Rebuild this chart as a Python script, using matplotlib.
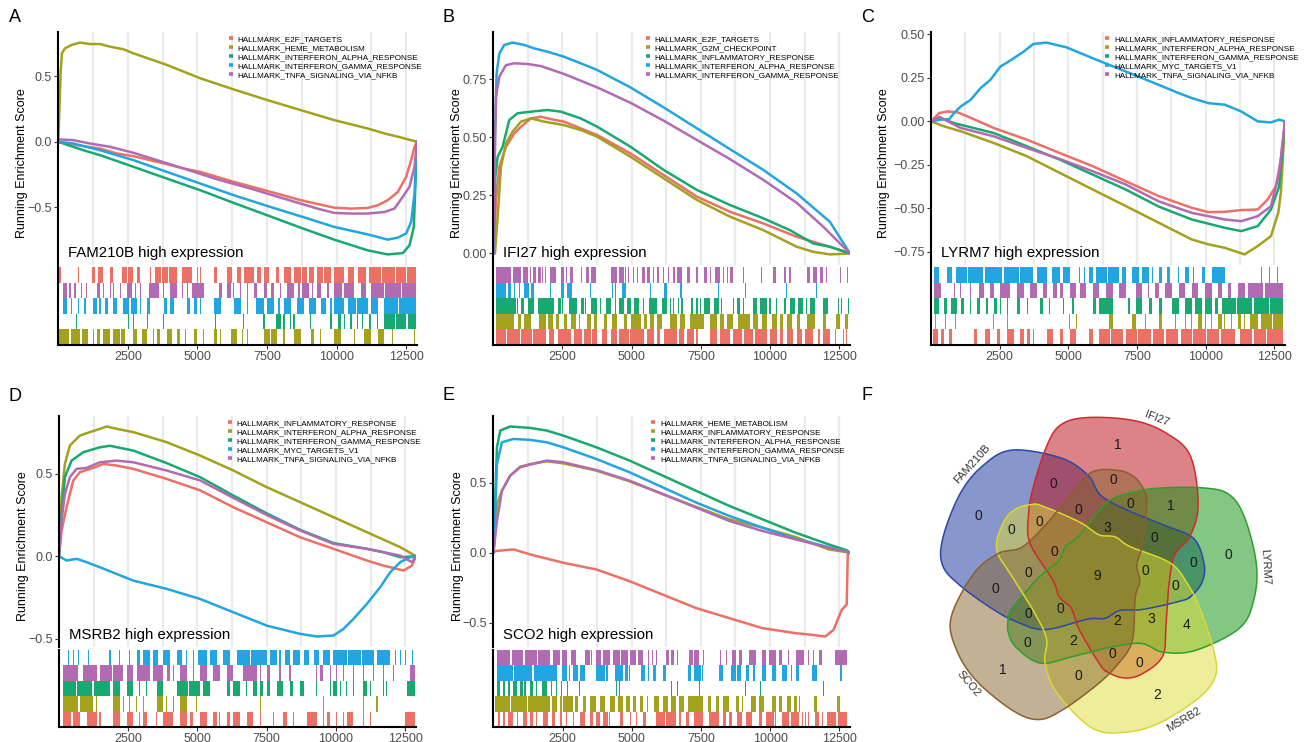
import numpy as np
import matplotlib
matplotlib.use("Agg")
import matplotlib.pyplot as plt
from matplotlib.lines import Line2D
from matplotlib.patches import Polygon

plt.rcParams["font.family"] = ["Liberation Sans", "DejaVu Sans"]

W, H = 1306, 742
N_GENES = 12890
PALETTE = ["#EC7064", "#A3A11E", "#17A970", "#22A5E0", "#B26BB3"]
TICK_GREY = "#4D4D4D"

# ---------------- A: FAM210B ----------------
fam_sets = ["HALLMARK_E2F_TARGETS", "HALLMARK_HEME_METABOLISM",
            "HALLMARK_INTERFERON_ALPHA_RESPONSE", "HALLMARK_INTERFERON_GAMMA_RESPONSE",
            "HALLMARK_TNFA_SIGNALING_VIA_NFKB"]
fam_x = [
    [0, 899, 1500, 2100, 2702, 3303, 3904, 4505, 5106, 5707, 6308, 7510, 8712, 9914, 10515, 11116, 11477, 11838, 12199, 12499, 12680, 12800, 12890],
    [0, 82, 130, 238, 478, 779, 1140, 1500, 1860, 2341, 2702, 3904, 5106, 6308, 7510, 8712, 9914, 11116, 11718, 12319, 12890],
    [0, 899, 1500, 2702, 3904, 5106, 6308, 7510, 8712, 9914, 11116, 11838, 12379, 12620, 12776, 12890],
    [0, 540, 1500, 2702, 3904, 5106, 6308, 7510, 8712, 9914, 11116, 11838, 12199, 12499, 12680, 12800, 12890],
    [0, 60, 540, 1140, 1860, 2702, 3544, 4505, 5707, 6909, 8111, 9313, 9914, 10515, 11116, 11718, 12079, 12379, 12620, 12800, 12890],
]
fam_y = [
    [0, -0.033, -0.051, -0.089, -0.11, -0.14, -0.171, -0.204, -0.23, -0.268, -0.306, -0.375, -0.446, -0.503, -0.51, -0.505, -0.485, -0.446, -0.383, -0.268, -0.14, -0.038, 0],
    [0, 0.52, 0.676, 0.714, 0.74, 0.758, 0.747, 0.747, 0.727, 0.707, 0.676, 0.587, 0.485, 0.40, 0.319, 0.242, 0.166, 0.102, 0.064, 0.033, 0],
    [0, -0.064, -0.102, -0.191, -0.281, -0.37, -0.467, -0.561, -0.656, -0.747, -0.829, -0.86, -0.85, -0.791, -0.65, 0],
    [0, -0.013, -0.064, -0.14, -0.23, -0.319, -0.408, -0.49, -0.569, -0.65, -0.707, -0.747, -0.732, -0.70, -0.612, -0.395, 0],
    [0, 0.018, 0.013, -0.013, -0.038, -0.084, -0.14, -0.204, -0.286, -0.357, -0.434, -0.51, -0.543, -0.548, -0.548, -0.536, -0.51, -0.42, -0.344, -0.191, 0],
]
# hit positions in thousands of ranked genes; tuples are dense runs
fam_hits = [
    [0.06, 0.72, (1.20, 1.32), (1.44, 1.62), (1.86, 1.98), (2.28, 2.48), (2.52, 2.70), (2.82, 2.94), 3.31,
     (3.49, 3.70), (3.74, 3.95), (3.99, 4.27), (4.45, 4.81), 4.99, 5.11, (5.59, 5.71), (6.07, 6.25),
     (6.43, 6.55), (6.67, 7.03), (7.15, 7.27), (7.39, 7.57), (7.81, 7.93), (8.11, 8.35), (8.47, 8.71),
     (8.77, 8.95), (9.00, 9.19), (9.31, 9.50), (9.55, 9.80), (9.92, 10.28), (10.40, 10.64), (10.76, 11.06),
     (11.18, 11.60), (11.64, 12.10), (12.14, 12.50), (12.54, 12.86)],
    [(0.04, 0.40), (0.44, 0.78), (0.84, 1.08), 1.26, (1.38, 1.50), (1.62, 1.86), (1.98, 2.20), (2.24, 2.40),
     (2.70, 2.82), (3.01, 3.19), 3.43, (3.55, 3.67), (3.91, 4.09), (4.27, 4.39), 4.57, (4.87, 4.99), 5.23,
     (5.59, 5.71), 5.83, (6.19, 6.43), 6.61, 6.79, (7.39, 7.60), (7.65, 7.87), 8.11, (8.47, 8.71),
     (9.07, 9.19), 9.43, (9.92, 10.16), 10.64, (11.00, 11.24), (11.48, 11.72), 12.02, 12.80],
    [0.66, 2.52, 2.70, 3.19, 3.79, 5.65, 6.67, 7.39, (7.81, 7.99), 8.11, 8.35, 8.47, 9.07, 9.80,
     (10.04, 10.16), 10.28, 10.52, 10.76, 10.94, (11.18, 11.24), 11.48, (11.72, 12.10), (12.15, 12.50),
     (12.55, 12.86)],
    [(0.18, 0.30), 0.48, 0.72, 0.96, (1.26, 1.38), 1.50, (1.68, 1.80), (1.98, 2.10), (2.34, 2.55),
     (2.60, 2.82), 2.94, (3.19, 3.31), (3.79, 3.91), (4.03, 4.15), (4.63, 4.75), (4.87, 4.99), 5.11,
     (5.59, 5.83), (6.31, 6.55), 6.79, (7.09, 7.39), (7.51, 7.75), 7.93, (8.11, 8.35), (8.59, 8.83),
     (9.01, 9.25), (9.43, 9.61), 9.80, (9.92, 10.28), (10.40, 10.70), (10.75, 11.12), (11.24, 11.48),
     (11.72, 12.20), (12.25, 12.86)],
    [(0.18, 0.30), 0.42, 0.60, 0.84, 1.02, (1.38, 1.50), 1.62, 1.86, 1.98, 2.22, (2.46, 2.64), 2.76, 2.94,
     (3.25, 3.61), 3.79, (4.03, 4.27), 4.45, 4.63, (4.81, 5.23), (5.77, 5.89), (6.07, 6.19), 6.31, 6.55,
     6.79, (7.03, 7.15), (7.39, 7.51), (7.63, 7.75), 7.99, (8.23, 8.47), 8.65, (8.77, 9.01), 9.13,
     (9.31, 9.43), (9.67, 9.73), (9.92, 10.20), (10.25, 10.64), (10.88, 11.06), (11.24, 11.70),
     (11.75, 12.30), (12.35, 12.86)],
]
fam_rug_order = [0, 4, 3, 2, 1]

# ---------------- B: IFI27 ----------------
ifi_sets = ["HALLMARK_E2F_TARGETS", "HALLMARK_G2M_CHECKPOINT", "HALLMARK_INFLAMMATORY_RESPONSE",
            "HALLMARK_INTERFERON_ALPHA_RESPONSE", "HALLMARK_INTERFERON_GAMMA_RESPONSE"]
ifi_x = [
    [0, 37, 97, 217, 457, 758, 998, 1358, 1718, 2078, 2558, 3159, 3759, 4960, 6160, 7361, 8562, 9763, 10964, 11565, 12165, 12890],
    [0, 61, 157, 277, 457, 697, 998, 1358, 1838, 2558, 3159, 3759, 4960, 6160, 7361, 8562, 9763, 10964, 11565, 12165, 12890],
    [0, 25, 73, 157, 337, 577, 877, 1358, 1958, 2438, 3159, 3759, 4960, 6160, 7361, 8562, 9763, 10724, 11565, 12165, 12890],
    [0, 61, 121, 217, 397, 697, 1117, 1477, 1958, 2558, 3159, 3759, 4960, 6160, 7361, 8562, 9763, 10964, 12165, 12890],
    [0, 37, 97, 217, 457, 758, 1238, 1718, 2558, 3759, 4960, 6160, 7361, 8562, 9763, 10964, 11925, 12890],
]
ifi_y = [
    [0, 0.057, 0.23, 0.373, 0.459, 0.516, 0.545, 0.581, 0.588, 0.578, 0.567, 0.538, 0.509, 0.43, 0.337, 0.244, 0.179, 0.129, 0.072, 0.05, 0.029, 0],
    [0, 0, 0.158, 0.373, 0.473, 0.524, 0.567, 0.581, 0.567, 0.552, 0.531, 0.502, 0.416, 0.323, 0.23, 0.158, 0.10, 0.029, 0.007, -0.004, 0],
    [0, 0.086, 0.33, 0.416, 0.459, 0.574, 0.603, 0.61, 0.617, 0.61, 0.581, 0.545, 0.459, 0.359, 0.273, 0.208, 0.151, 0.10, 0.043, 0.029, 0],
    [0, 0.516, 0.775, 0.86, 0.897, 0.907, 0.897, 0.882, 0.868, 0.846, 0.818, 0.789, 0.714, 0.628, 0.538, 0.448, 0.359, 0.258, 0.136, 0],
    [0, 0.30, 0.674, 0.76, 0.81, 0.818, 0.815, 0.806, 0.772, 0.714, 0.648, 0.571, 0.488, 0.405, 0.316, 0.218, 0.115, 0],
]
ifi_hits = [
    [(0.10, 0.45), (0.50, 0.95), (1.00, 1.40), (1.45, 1.90), (2.02, 2.20), (2.32, 2.80), (2.92, 3.22),
     (3.28, 3.52), (3.58, 3.76), (3.94, 4.12), (4.24, 4.48), (4.54, 4.90), (4.95, 5.44), (5.56, 5.80),
     (5.92, 6.04), (6.16, 6.64), (6.70, 6.88), (7.00, 7.24), 7.36, (7.84, 8.08), (8.20, 8.56), (8.68, 9.00),
     (9.06, 9.40), (9.46, 9.88), (10.00, 10.24), (10.36, 10.48), (10.60, 10.84), (10.96, 11.14),
     (11.26, 11.56), (11.74, 11.80), (11.92, 12.16), (12.34, 12.40), 12.65, 12.77],
    [(0.10, 0.76), (0.88, 1.00), (1.12, 1.36), (1.66, 1.90), (1.96, 2.14), (2.26, 2.38), (2.56, 2.68),
     (2.80, 2.98), 3.10, (3.40, 3.52), (3.64, 3.76), (4.00, 4.12), (4.30, 4.48), (4.72, 4.84), (4.96, 5.32),
     (5.44, 5.56), (5.68, 5.80), (5.92, 6.10), (6.40, 6.64), (6.76, 6.94), (7.12, 7.60), (7.84, 8.08),
     (8.20, 8.32), (8.44, 8.68), (8.86, 9.28), (9.40, 9.58), (9.70, 9.88), (10.06, 10.24), (10.36, 10.48),
     (10.60, 10.78), (10.96, 11.08), (11.32, 11.62), (11.92, 12.04), (12.40, 12.52), (12.70, 12.82)],
    [(0.10, 0.82), 0.88, (1.00, 1.12), (1.24, 1.48), (1.60, 2.20), (2.32, 2.44), 2.50, (2.74, 3.04),
     (3.16, 3.28), 3.34, (3.52, 3.76), 3.88, (4.06, 4.24), 4.42, (4.54, 4.72), (4.84, 4.96), (5.08, 5.26),
     5.44, (5.62, 5.92), (6.10, 6.28), 6.40, 6.50, 6.70, 6.82, 7.18, 7.36, 7.48, (7.60, 7.84), (7.96, 8.14),
     8.26, 8.68, (8.80, 8.92), 9.04, (9.40, 9.52), (9.64, 9.88), 10.00, 10.24, 10.54, (10.72, 10.90),
     (11.02, 11.20), 11.32, (11.44, 11.62), (11.92, 12.10), 12.46, 12.58, 12.82],
    [(0.10, 0.46), (0.52, 0.64), 0.76, 0.94, (1.12, 1.30), (1.36, 1.48), 2.08, (2.44, 2.56), (2.68, 2.86),
     3.52, 4.30, 4.42, (4.66, 4.78), 5.68, (6.16, 6.28), (6.76, 6.82), 8.14, 9.10, 10.60, 11.68],
    [(0.10, 0.64), (0.70, 1.00), (1.06, 1.24), 1.33, (1.42, 1.54), (1.60, 1.72), 1.78, 1.90, (2.05, 2.26),
     (2.44, 2.56), (2.62, 2.68), (2.76, 2.88), (3.16, 3.22), (3.34, 3.46), (3.52, 3.70), (4.24, 4.48),
     (4.54, 4.72), 4.78, 4.90, 5.08, 5.20, (5.38, 5.50), (5.56, 5.68), 5.80, (5.92, 5.98), 6.16, 6.34,
     (6.50, 6.55), (6.64, 6.82), (7.00, 7.12), 7.36, (7.60, 7.72), 7.84, (8.02, 8.20), 8.32, 8.47,
     (8.56, 8.68), 9.04, 9.70, (10.12, 10.22), 10.54, 10.72, (11.32, 11.44), (11.56, 11.68),
     (11.80, 11.92), 12.05, (12.53, 12.58), (12.77, 12.83)],
]
ifi_rug_order = [4, 3, 2, 1, 0]

# ---------------- C: LYRM7 ----------------
lyr_sets = ["HALLMARK_INFLAMMATORY_RESPONSE", "HALLMARK_INTERFERON_ALPHA_RESPONSE",
            "HALLMARK_INTERFERON_GAMMA_RESPONSE", "HALLMARK_MYC_TARGETS_V1",
            "HALLMARK_TNFA_SIGNALING_VIA_NFKB"]
lyr_x = [
    [0, 302, 602, 963, 1323, 2284, 3486, 4688, 5890, 7091, 8293, 9494, 10095, 10696, 11297, 11898, 12258, 12559, 12739, 12890],
    [0, 482, 1083, 2284, 3486, 4688, 5890, 7091, 8293, 9494, 10095, 10696, 11418, 11898, 12378, 12643, 12739, 12890],
    [0, 362, 842, 2284, 3486, 4688, 5890, 7091, 8293, 9494, 10696, 11297, 11898, 12378, 12679, 12890],
    [0, 362, 662, 842, 1083, 1443, 1804, 2164, 2525, 2885, 3366, 3726, 4207, 4928, 5890, 7091, 8293, 9014, 9494, 10095, 10696, 11297, 11898, 12378, 12679, 12890],
    [0, 302, 1083, 2284, 3486, 4688, 5890, 7091, 8293, 9494, 10696, 11297, 11898, 12378, 12679, 12890],
]
lyr_y = [
    [0, 0.048, 0.057, 0.052, 0.029, -0.038, -0.105, -0.182, -0.258, -0.344, -0.43, -0.497, -0.522, -0.52, -0.51, -0.507, -0.449, -0.373, -0.22, 0],
    [0, -0.029, -0.057, -0.124, -0.20, -0.296, -0.392, -0.487, -0.583, -0.679, -0.707, -0.727, -0.765, -0.717, -0.66, -0.526, -0.41, 0],
    [0, 0.019, -0.01, -0.067, -0.143, -0.22, -0.306, -0.392, -0.49, -0.564, -0.612, -0.631, -0.602, -0.507, -0.373, 0],
    [0, 0.01, 0.013, 0.048, 0.086, 0.124, 0.191, 0.239, 0.315, 0.35, 0.40, 0.445, 0.453, 0.426, 0.363, 0.287, 0.21, 0.163, 0.134, 0.105, 0.096, 0.057, 0.0, -0.006, 0.01, 0],
    [0, 0.025, -0.038, -0.086, -0.153, -0.216, -0.287, -0.363, -0.46, -0.526, -0.564, -0.574, -0.545, -0.488, -0.296, 0],
]
lyr_hits = [
    [(0.06, 0.24), (0.36, 0.48), (0.66, 0.78), (1.56, 1.68), (1.98, 2.16), (2.41, 2.53), (2.77, 3.01),
     (3.25, 3.37), (3.49, 3.61), 3.73, (4.21, 4.45), (4.69, 4.81), (5.05, 5.29), (5.77, 5.89), (6.13, 6.50),
     (6.55, 7.00), (7.10, 7.50), (7.55, 8.00), (8.10, 8.50), (8.55, 9.00), (9.10, 9.50), (9.55, 10.00),
     (10.05, 10.50), (10.55, 11.06), (11.24, 11.70), (11.75, 12.20), (12.25, 12.80)],
    [0.18, 0.54, 0.90, 2.29, 2.77, 5.05, 5.29, (6.49, 6.61), (7.33, 7.45), 7.81, (8.29, 8.41), 8.89, 9.26,
     9.50, (9.74, 9.86), 9.98, 10.22, (10.46, 10.58), 10.70, 10.94, (11.18, 11.30), 11.42, (11.60, 11.90),
     (12.02, 12.40), (12.45, 12.80)],
    [(0.12, 0.30), (0.48, 0.60), (0.72, 0.96), (1.08, 1.20), 1.44, (1.68, 1.80), 2.04, (2.29, 2.41), 2.53,
     2.77, (3.13, 3.25), (3.49, 3.55), (3.97, 4.09), 4.33, 4.81, 5.17, (5.89, 6.01), (6.13, 6.61), 7.21,
     (7.45, 7.69), (7.93, 8.05), (8.29, 8.41), (8.77, 9.02), (9.26, 9.50), (9.62, 9.86), (9.98, 10.22),
     (10.34, 10.46), (10.58, 11.10), (11.15, 11.70), (11.75, 12.30), (12.35, 12.80)],
    [(0.12, 0.30), (0.60, 0.78), (0.90, 1.30), (1.35, 1.90), (1.95, 2.60), (2.65, 3.20), (3.25, 3.73),
     (3.85, 4.21), (4.39, 4.69), (4.81, 5.05), 5.41, 5.59, (5.77, 5.89), (6.01, 6.40), (6.45, 6.85),
     (6.97, 7.09), (7.33, 7.57), (7.69, 7.93), 8.05, (8.29, 8.41), (8.59, 8.71), 9.02, (9.26, 9.38), 9.56,
     (9.86, 9.98), (10.22, 10.70), 12.02, 12.32, 12.62],
    [(0.12, 0.36), 0.84, 1.08, 1.44, (1.74, 1.92), (2.16, 2.29), (2.53, 2.89), (3.13, 3.37), (3.61, 3.85),
     (4.09, 4.21), (4.45, 4.57), (4.69, 4.81), (5.05, 5.29), (5.41, 5.65), (5.89, 6.13), (6.37, 6.61),
     (6.85, 7.09), (7.45, 7.69), 7.93, (8.17, 8.29), (8.53, 8.77), (9.02, 9.26), (9.50, 9.74),
     (9.98, 10.22), (10.46, 10.58), (10.82, 10.94), (11.18, 11.42), (11.54, 12.10), (12.15, 12.80)],
]
lyr_rug_order = [3, 4, 2, 1, 0]

# ---------------- D: MSRB2 ----------------
msr_sets = list(lyr_sets)
msr_x = [
    [0, 93, 273, 514, 755, 1237, 1598, 2080, 2682, 3887, 5091, 6296, 7501, 8706, 9911, 11116, 11718, 12440, 12743, 12890],
    [0, 93, 213, 394, 755, 1117, 1478, 1719, 2080, 2682, 3887, 5091, 6296, 7501, 8706, 9911, 11116, 12321, 12890],
    [0, 93, 213, 454, 876, 1478, 1839, 2682, 3887, 5091, 6296, 7501, 8706, 9911, 11116, 11718, 12321, 12890],
    [0, 273, 635, 996, 1478, 2682, 3887, 5091, 6296, 7501, 8706, 9308, 9911, 10272, 10634, 11116, 11598, 11959, 12321, 12682, 12890],
    [0, 93, 213, 394, 635, 996, 1478, 2080, 2682, 3887, 5091, 6296, 7501, 8706, 9911, 11116, 12321, 12743, 12890],
]
msr_y = [
    [0, 0.156, 0.297, 0.459, 0.51, 0.536, 0.56, 0.55, 0.53, 0.469, 0.40, 0.297, 0.206, 0.115, 0.045, -0.026, -0.057, -0.087, -0.057, 0],
    [0, 0.358, 0.56, 0.672, 0.732, 0.753, 0.773, 0.787, 0.773, 0.753, 0.692, 0.611, 0.52, 0.419, 0.328, 0.237, 0.146, 0.055, 0],
    [0, 0.257, 0.48, 0.58, 0.631, 0.661, 0.67, 0.641, 0.565, 0.48, 0.368, 0.26, 0.16, 0.08, 0.045, 0.024, -0.006, 0],
    [0, -0.026, -0.016, -0.036, -0.067, -0.148, -0.198, -0.259, -0.34, -0.421, -0.471, -0.487, -0.481, -0.441, -0.38, -0.289, -0.188, -0.097, -0.036, -0.006, 0],
    [0, 0.216, 0.378, 0.48, 0.53, 0.536, 0.57, 0.58, 0.57, 0.52, 0.46, 0.354, 0.25, 0.156, 0.075, 0.045, 0.004, -0.036, 0],
]
msr_hits = [
    [(0.15, 0.45), (0.50, 0.76), (1.00, 1.36), 1.48, (1.96, 2.20), (2.44, 2.68), 2.92, (3.04, 3.16), 3.53,
     (3.77, 4.13), (4.37, 4.61), (4.73, 4.85), (5.09, 5.33), (5.57, 5.69), 5.81, (6.06, 6.18), (6.30, 6.54),
     (6.78, 7.02), 7.26, 7.74, (8.10, 8.22), 8.46, (8.95, 9.31), 9.55, (9.67, 9.79), 10.03, 10.27,
     (10.39, 10.63), 10.99, 11.24, (12.50, 12.86)],
    [(0.15, 0.70), (0.75, 1.24), 1.36, (1.96, 2.20), 2.32, 2.56, 2.80, 3.04, (3.53, 3.77), 3.89, 4.13,
     (4.37, 4.61), 4.97, 7.26, 9.55, 10.99, 11.48],
    [(0.15, 0.60), (0.65, 1.20), (1.25, 1.84), (1.96, 2.20), (2.44, 2.68), 2.92, 3.16, (3.53, 3.77),
     (4.25, 4.65), (4.70, 5.09), (5.21, 5.45), (6.06, 6.18), (6.30, 6.54), 6.78, (7.02, 7.14), (7.26, 7.38),
     (7.50, 7.62), (7.86, 8.10), (8.34, 8.46), (8.71, 8.83), 9.31, 9.79, (9.91, 10.03), 10.15, 10.39, 10.63,
     (10.99, 11.12), 11.24, 11.72, 11.84, (12.56, 12.86)],
    [0.34, 0.51, 0.70, 1.06, 1.84, 2.20, 2.56, (2.80, 2.92), (3.04, 3.29), (3.41, 3.59), (3.77, 4.01),
     (4.25, 4.43), 4.61, 4.85, (5.03, 5.33), (5.45, 5.69), (5.93, 6.18), (6.42, 6.90), (6.95, 7.50),
     (7.62, 7.86), 7.98, (8.16, 8.34), (8.46, 8.71), (8.83, 9.01), (9.19, 9.37), (9.55, 9.79), (9.91, 10.40),
     (10.45, 10.90), (10.95, 11.36), (11.48, 11.96), 12.14, 12.32, 12.50, 12.75],
    [(0.15, 0.70), (0.88, 1.36), (1.48, 1.90), (1.95, 2.32), (2.44, 2.68), (2.80, 3.29), (3.41, 3.77),
     (3.89, 4.01), 4.13, (4.37, 4.61), 4.85, (5.09, 5.33), (5.57, 5.81), (6.06, 6.30), (6.66, 7.14), 7.26,
     (7.50, 7.62), 7.98, 8.34, 9.31, (9.43, 9.55), 9.79, 10.03, 10.27, 10.63, 10.99, 11.36, 11.72, 12.08,
     (12.68, 12.86)],
]
msr_rug_order = [3, 4, 2, 1, 0]

# ---------------- E: SCO2 ----------------
sco_sets = ["HALLMARK_HEME_METABOLISM", "HALLMARK_INFLAMMATORY_RESPONSE",
            "HALLMARK_INTERFERON_ALPHA_RESPONSE", "HALLMARK_INTERFERON_GAMMA_RESPONSE",
            "HALLMARK_TNFA_SIGNALING_VIA_NFKB"]
sco_x = [
    [0, 65, 725, 1324, 2523, 3722, 4921, 6120, 7319, 8518, 9717, 10916, 11516, 11996, 12295, 12595, 12770, 12810, 12890],
    [0, 125, 305, 604, 964, 1324, 1923, 2523, 3722, 4921, 6120, 7319, 8518, 9717, 10916, 12115, 12890],
    [0, 125, 245, 604, 1324, 1923, 2523, 3722, 4921, 6120, 7319, 8518, 9717, 10916, 12115, 12775, 12890],
    [0, 125, 305, 725, 1324, 1923, 2523, 3722, 4921, 6120, 7319, 8518, 9717, 10916, 12115, 12775, 12890],
    [0, 125, 305, 604, 964, 1324, 1923, 2523, 3722, 4921, 6120, 7319, 8518, 9717, 10916, 12115, 12775, 12890],
]
sco_y = [
    [0, 0.012, 0.024, -0.012, -0.072, -0.12, -0.204, -0.30, -0.396, -0.468, -0.54, -0.576, -0.588, -0.60, -0.552, -0.408, -0.372, -0.01, 0],
    [0, 0.348, 0.444, 0.552, 0.616, 0.635, 0.655, 0.64, 0.588, 0.511, 0.42, 0.329, 0.24, 0.18, 0.113, 0.024, 0],
    [0, 0.755, 0.875, 0.904, 0.894, 0.875, 0.839, 0.755, 0.66, 0.552, 0.444, 0.336, 0.24, 0.144, 0.06, 0.017, 0],
    [0, 0.635, 0.791, 0.815, 0.808, 0.791, 0.755, 0.671, 0.576, 0.468, 0.36, 0.264, 0.18, 0.10, 0.04, 0.007, 0],
    [0, 0.228, 0.444, 0.552, 0.612, 0.631, 0.66, 0.648, 0.592, 0.516, 0.42, 0.324, 0.228, 0.156, 0.096, 0.036, 0.007, 0],
]
sco_hits = [
    [(0.18, 0.24), (0.36, 0.42), (0.54, 0.72), (0.84, 0.90), (1.08, 1.20), (1.32, 1.44), 1.56, (1.80, 1.98),
     (2.10, 2.22), (2.40, 2.46), 2.64, 2.88, (3.12, 3.30), (3.48, 3.60), (3.72, 3.84), (3.96, 4.14), 4.20,
     (4.56, 4.68), (4.92, 4.98), 5.16, (5.40, 5.52), (5.88, 6.20), (6.25, 6.60), (6.72, 6.78), (6.96, 7.08),
     (7.26, 7.56), (7.80, 8.16), (8.28, 8.40), (8.52, 8.64), (8.82, 9.00), (9.12, 9.36), (9.60, 9.72),
     (9.84, 10.14), 10.20, (10.44, 10.68), (10.74, 11.04), 11.16, 11.28, 11.40, (11.64, 11.76), 11.88,
     (12.05, 12.40), (12.45, 12.77)],
    [(0.07, 0.60), (0.65, 1.20), (1.25, 2.04), (2.10, 2.28), (2.40, 2.46), (2.52, 2.88), (2.94, 3.06),
     (3.24, 3.36), (3.48, 3.72), (3.84, 4.02), (4.20, 4.38), (4.50, 4.68), (4.80, 4.92), (5.04, 5.16),
     (5.28, 5.40), 5.58, (5.82, 6.00), (6.12, 6.30), (6.42, 6.60), (6.72, 6.90), (7.02, 7.56), (7.74, 7.86),
     (8.04, 8.16), (8.28, 8.52), (8.76, 8.88), 9.00, (9.30, 9.48), (9.60, 9.78), (10.08, 10.20),
     (10.32, 10.44), (10.62, 10.74), (10.86, 10.98), (11.04, 11.10), (11.58, 11.70), (12.41, 12.53)],
    [(0.13, 0.24), (0.36, 0.42), (0.54, 0.60), (0.72, 0.84), (0.96, 1.08), 1.14, (1.32, 1.44), 1.56,
     (1.74, 1.92), 2.10, 2.28, 2.46, (2.64, 2.70), 3.12, 4.44, 4.56, 6.42, 6.66, 7.44, 9.12, 9.66, 11.94],
    [(0.13, 0.70), (0.75, 1.40), (1.45, 2.28), (2.46, 2.64), 2.76, (2.88, 3.06), (3.12, 3.30), (3.72, 4.02),
     (4.08, 4.14), (4.38, 4.68), (4.74, 4.86), 4.92, (5.34, 5.46), (5.58, 5.64), (5.76, 5.88), (6.12, 6.24),
     (7.02, 7.14), (7.26, 7.50), 7.56, (8.16, 8.28), (8.58, 8.76), (8.82, 8.94), (9.12, 9.24), 9.42,
     (9.72, 9.84), (10.08, 10.20), (10.44, 10.62), (10.74, 10.80), (10.92, 11.04), (11.52, 11.70),
     (12.53, 12.59)],
    [(0.13, 0.60), (0.66, 1.08), (1.14, 1.56), (1.62, 2.04), (2.16, 2.40), (2.46, 2.64), (2.82, 3.00),
     (3.30, 3.48), 3.54, (3.72, 3.90), (3.96, 4.20), (4.32, 4.56), (4.62, 4.86), (4.92, 5.16), (5.22, 5.40),
     (5.58, 5.64), 5.76, 5.88, (6.24, 6.36), (6.42, 6.54), 6.66, (7.08, 7.20), (7.26, 7.44), (7.56, 7.62),
     8.22, (8.40, 8.46), (8.64, 8.76), (8.88, 9.00), (9.24, 9.48), (9.72, 9.84), (9.96, 10.20),
     (10.32, 10.44), 10.68, (10.92, 11.22), 11.40, 11.58, (11.76, 11.88), (12.35, 12.77)],
]
sco_rug_order = [4, 3, 2, 1, 0]

# ---------------- F: overlap of enriched hallmark sets ----------------
venn_sets = ["LYRM7", "IFI27", "FAM210B", "SCO2", "MSRB2"]
venn_regions = [
    ("LYRM7",), ("IFI27",), ("FAM210B",), ("SCO2",), ("MSRB2",),
    ("LYRM7", "IFI27"), ("IFI27", "FAM210B"), ("FAM210B", "SCO2"), ("SCO2", "MSRB2"), ("MSRB2", "LYRM7"),
    ("LYRM7", "FAM210B"), ("IFI27", "SCO2"), ("FAM210B", "MSRB2"), ("SCO2", "LYRM7"), ("MSRB2", "IFI27"),
    ("LYRM7", "IFI27", "FAM210B"), ("IFI27", "FAM210B", "SCO2"), ("FAM210B", "SCO2", "MSRB2"),
    ("SCO2", "MSRB2", "LYRM7"), ("MSRB2", "LYRM7", "IFI27"),
    ("LYRM7", "IFI27", "SCO2"), ("IFI27", "FAM210B", "MSRB2"), ("FAM210B", "SCO2", "LYRM7"),
    ("SCO2", "MSRB2", "IFI27"), ("MSRB2", "LYRM7", "FAM210B"),
    ("LYRM7", "IFI27", "FAM210B", "MSRB2"), ("LYRM7", "IFI27", "FAM210B", "SCO2"),
    ("IFI27", "FAM210B", "SCO2", "MSRB2"), ("LYRM7", "FAM210B", "SCO2", "MSRB2"),
    ("LYRM7", "IFI27", "SCO2", "MSRB2"),
    ("LYRM7", "IFI27", "FAM210B", "SCO2", "MSRB2"),
]
venn_counts = [0, 1, 0, 1, 2,
               1, 0, 0, 0, 4,
               0, 0, 0, 0, 0,
               0, 0, 0, 2, 3,
               0, 0, 0, 0, 0,
               0, 3, 0, 0, 2,
               9]

VENN_FILL = {"LYRM7": "#0A910A", "IFI27": "#B90810", "FAM210B": "#10309A",
             "SCO2": "#87642D", "MSRB2": "#DCDC37"}
VENN_EDGE = {"LYRM7": "#2E9E2E", "IFI27": "#D02A2E", "FAM210B": "#2B48A8",
             "SCO2": "#8A6030", "MSRB2": "#D8D830"}
VENN_LABEL_ANGLE = {"LYRM7": 3, "IFI27": 69, "FAM210B": 138, "SCO2": 220, "MSRB2": 301}

fig = plt.figure(figsize=(W / 100, H / 100), dpi=100)


def px_axes(l, t, r, b):
    return fig.add_axes([l / W, 1 - b / H, (r - l) / W, (b - t) / H])


def hit_bars(hits):
    bars = []
    for h in hits:
        if isinstance(h, tuple):
            bars.append((h[0] * 1000, (h[1] - h[0]) * 1000))
        else:
            bars.append((h * 1000 - 20, 40))
    return bars


def gsea_panel(letter, top_box, rug_box, title, sets, xs, ys, hits, rug_order,
               yticks, yfmt, key_x, label_x):
    ax = px_axes(*top_box)
    for i, name in enumerate(sets):
        ax.plot(xs[i], ys[i], color=PALETTE[i], lw=1.8, solid_joinstyle="round")
    lo = min(min(y) for y in ys)
    hi = max(max(y) for y in ys)
    pad = 0.05 * (hi - lo)
    ax.set_ylim(lo - pad, hi + pad)
    ax.set_xlim(0, N_GENES)
    ax.set_xticks(np.arange(1250, N_GENES, 1250))
    ax.grid(axis="x", color="#EBEBEB", lw=1.6)
    ax.set_axisbelow(True)
    ax.tick_params(axis="x", bottom=False, labelbottom=False)
    ax.set_yticks(yticks)
    ax.set_yticklabels([yfmt.format(v).replace("-", "\u2212") for v in yticks])
    ax.tick_params(axis="y", length=3, width=0.8, color="#333333", labelcolor=TICK_GREY,
                   labelsize=9, pad=1.5)
    for s in ("top", "right", "bottom"):
        ax.spines[s].set_visible(False)
    ax.spines["left"].set_linewidth(1.5)
    ax.text(label_x, 0.436, "Running Enrichment Score", rotation=90, ha="center", va="center",
            transform=ax.transAxes, fontsize=9)
    ax.text(0.027, 0.05, title, transform=ax.transAxes, fontsize=10.8, ha="left", va="center")
    handles = [Line2D([0], [0], color=PALETTE[i], lw=2.6, solid_capstyle="butt") for i in range(len(sets))]
    ax.legend(handles, sets, loc="upper left", bbox_to_anchor=(key_x, 0.99), frameon=False,
              fontsize=5.9, handlelength=0.5, handletextpad=0.6, labelspacing=0.16,
              borderaxespad=0, borderpad=0.1)

    rug = px_axes(*rug_box)
    for row, idx in enumerate(rug_order):
        rug.broken_barh(hit_bars(hits[idx]), (4 - row, 1), facecolors=PALETTE[idx], lw=0)
    rug.set_ylim(0, 5)
    rug.set_xlim(0, N_GENES)
    rug.set_yticks([])
    rug.set_xticks([2500, 5000, 7500, 10000, 12500])
    rug.tick_params(axis="x", length=3, width=0.8, color="#333333", labelcolor=TICK_GREY,
                    labelsize=9, pad=1.5)
    for s in ("top", "right"):
        rug.spines[s].set_visible(False)
    rug.spines["left"].set_linewidth(1.5)
    rug.spines["bottom"].set_linewidth(1.5)

    fig.text(letter[1] / W, 1 - letter[2] / H, letter[0], fontsize=13, ha="center", va="center")


gsea_panel(("A", 15, 17), (58.3, 32, 417, 265), (58.3, 267, 417, 345), "FAM210B high expression",
           fam_sets, fam_x, fam_y, fam_hits, fam_rug_order, [-0.5, 0.0, 0.5], "{:.1f}", 0.473, -0.102)
gsea_panel(("B", 448, 17), (493.3, 32, 850, 265), (493.3, 267, 850, 345), "IFI27 high expression",
           ifi_sets, ifi_x, ifi_y, ifi_hits, ifi_rug_order, [0.0, 0.25, 0.5, 0.75], "{:.2f}", 0.425, -0.102)
gsea_panel(("C", 868, 17), (931, 32, 1285, 265), (931, 267, 1285, 345), "LYRM7 high expression",
           lyr_sets, lyr_x, lyr_y, lyr_hits, lyr_rug_order, [-0.75, -0.5, -0.25, 0.0, 0.25, 0.5], "{:.2f}",
           0.49, -0.133)
gsea_panel(("D", 15, 397), (59, 416, 416, 647), (59, 650, 416, 727), "MSRB2 high expression",
           msr_sets, msr_x, msr_y, msr_hits, msr_rug_order, [-0.5, 0.0, 0.5], "{:.1f}", 0.47, -0.101)
gsea_panel(("E", 448, 395), (493.5, 416, 850, 647), (493.5, 650, 850, 727), "SCO2 high expression",
           sco_sets, sco_x, sco_y, sco_hits, sco_rug_order, [-0.5, 0.0, 0.5], "{:.1f}", 0.44, -0.10)

# ---- five-set Venn: one outline rotated in 72 degree steps ----
VC = (1097.0, 576.0)
SHAPE_SCALE = 0.98
SHAPE_PSI = [-166, -157, -147, -132, -117, -90, -66, -58, -46, -29, -17, -4, 13, 23, 31, 45, 57, 73,
             105, 128, 150, 168, 182, 190]
SHAPE_R = [97, 107, 110, 106, 87, 74, 82, 103, 126, 155, 162, 163, 162, 158, 140, 111, 94, 76,
           45, 44, 42, 55, 72, 88]
# (member offsets, angle offset, radius) for each rotational family of regions
ORBITS = [((0,), 0, 133), ((0, 1), 34.5, 102), ((0, 2), -1, 97), ((0, 1, 2), 24.5, 69),
          ((0, 1, 3), 56, 79), ((0, 1, 2, 4), -3, 49)]


def closed_spline(pts, n=24):
    p = np.asarray(pts, float)
    m = len(p)
    t = np.linspace(0, 1, n, endpoint=False)[:, None]
    out = []
    for i in range(m):
        p0, p1, p2, p3 = p[i - 1], p[i], p[(i + 1) % m], p[(i + 2) % m]
        out.append(0.5 * (2 * p1 + (-p0 + p2) * t + (2 * p0 - 5 * p1 + 4 * p2 - p3) * t ** 2
                          + (-p0 + 3 * p1 - 3 * p2 + p3) * t ** 3))
    return np.vstack(out)


def set_angle(k):
    return 9 + 72 * k


def polar(ang, r):
    a = np.radians(ang)
    return VC[0] + r * np.cos(a), VC[1] - r * np.sin(a)


axv = px_axes(880, 390, 1306, 742)
axv.set_xlim(880, 1306)
axv.set_ylim(742, 390)
axv.axis("off")

draw_order = ["FAM210B", "IFI27", "LYRM7", "MSRB2", "SCO2"]
for name in draw_order:
    k = venn_sets.index(name)
    ang = np.radians(np.array(SHAPE_PSI) + set_angle(k))
    r = np.array(SHAPE_R, float) * SHAPE_SCALE
    outline = closed_spline(np.c_[VC[0] + r * np.cos(ang), VC[1] - r * np.sin(ang)])
    axv.add_patch(Polygon(outline, closed=True, facecolor=VENN_FILL[name], alpha=0.5, edgecolor="none"))
    loop = np.vstack([outline, outline[:1]])
    axv.plot(loop[:, 0], loop[:, 1], color=VENN_EDGE[name], lw=1.1)

for members, count in zip(venn_regions, venn_counts):
    idx = {venn_sets.index(m) for m in members}
    if len(idx) == 5:
        x, y = VC
    else:
        for offs, a0, r0 in ORBITS:
            hit = [k for k in range(5) if {(k + o) % 5 for o in offs} == idx]
            if hit:
                x, y = polar(set_angle(hit[0]) + a0, r0)
                break
    axv.text(x, y, str(count), fontsize=10, ha="center", va="center", color="#1A1A1A")

for name in venn_sets:
    phi = VENN_LABEL_ANGLE[name]
    x, y = polar(phi, 168)
    rot = phi - 90 if 0 <= phi % 360 <= 180 else phi + 90
    axv.text(x, y, name, fontsize=8, rotation=rot, ha="center", va="center", color="#333333",
             rotation_mode="anchor")

fig.text(867 / W, 1 - 395 / H, "F", fontsize=13, ha="center", va="center")

fig.savefig("out.png", dpi=100)
